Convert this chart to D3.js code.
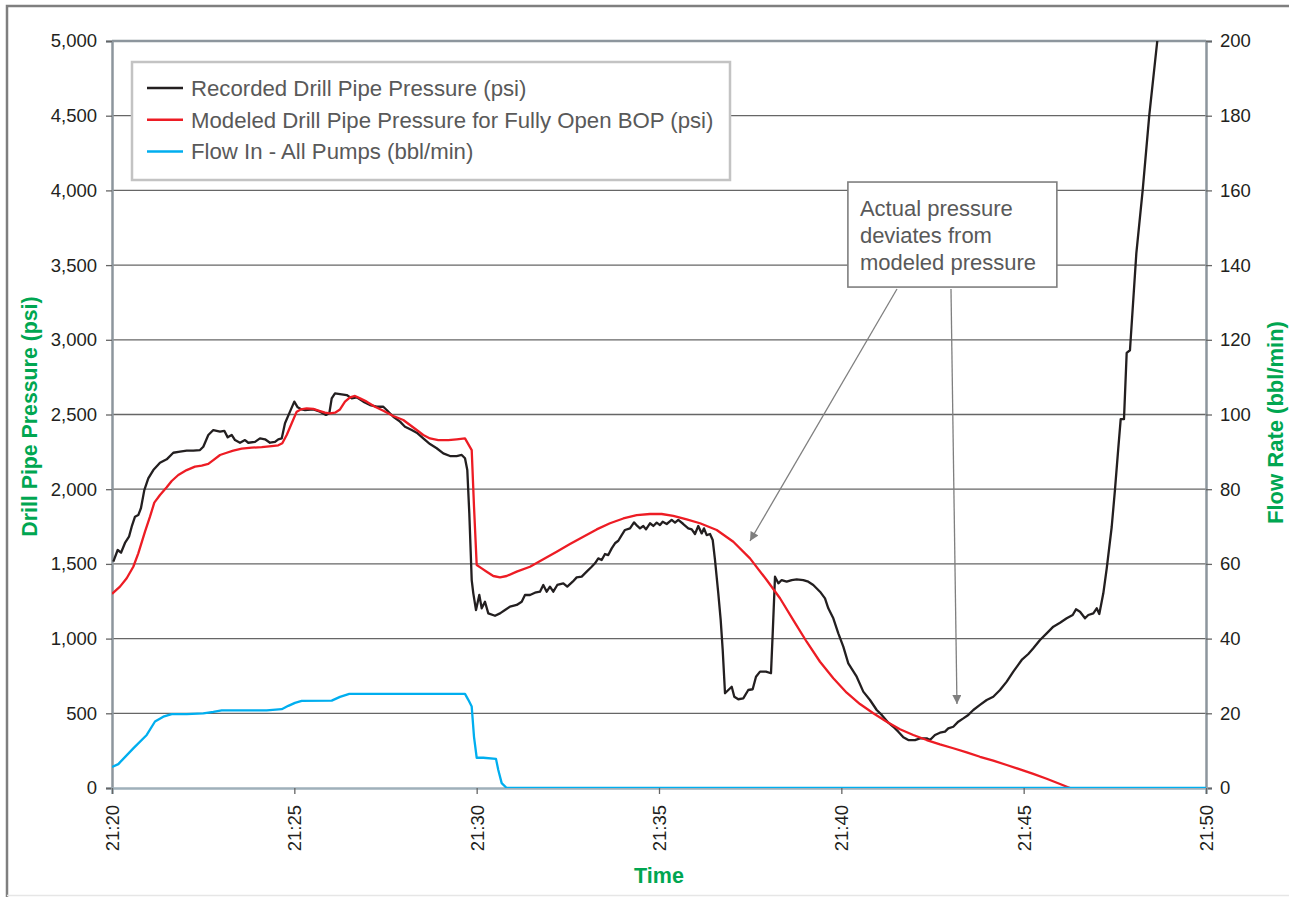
<!DOCTYPE html>
<html>
<head>
<meta charset="utf-8">
<script src="https://cdn.jsdelivr.net/npm/d3@7"></script>
<style>
  html, body { margin: 0; padding: 0; background: #fff; }
  svg { display: block; font-family: "Liberation Sans", Arial, sans-serif; }
</style>
</head>
<body>
<script>
// ---------------- DATA (time = minutes after 21:20) ----------------
const recordedMin = [0.036,0.156,0.247,0.356,0.466,0.540,0.631,0.721,0.795,0.886,0.995,1.133,1.316,1.500,1.681,1.865,2.048,2.229,2.413,2.504,2.641,2.778,2.962,3.080,3.173,3.282,3.373,3.510,3.647,3.738,3.921,4.058,4.196,4.333,4.470,4.560,4.654,4.744,4.881,4.999,5.092,5.202,5.292,5.520,5.704,5.868,5.959,6.025,6.115,6.252,6.436,6.573,6.710,6.891,7.075,7.259,7.440,7.533,7.714,7.898,8.035,8.218,8.356,8.536,8.720,8.904,9.085,9.269,9.452,9.590,9.680,9.743,9.798,9.864,9.908,9.982,10.072,10.138,10.228,10.319,10.503,10.640,10.777,10.914,11.098,11.235,11.325,11.462,11.599,11.736,11.827,11.920,12.010,12.101,12.211,12.376,12.485,12.633,12.743,12.880,13.017,13.154,13.245,13.335,13.428,13.519,13.609,13.703,13.793,13.884,13.977,14.067,14.205,14.315,14.405,14.479,14.569,14.643,14.753,14.844,14.937,15.027,15.101,15.211,15.348,15.439,15.529,15.666,15.803,15.897,15.987,16.077,16.171,16.234,16.308,16.399,16.473,16.536,16.626,16.692,16.747,16.810,16.901,16.994,17.065,17.174,17.311,17.448,17.569,17.660,17.770,17.934,18.071,18.118,18.181,18.272,18.364,18.501,18.638,18.776,18.957,19.094,19.231,19.415,19.552,19.643,19.780,19.917,20.054,20.191,20.421,20.602,20.786,20.970,21.107,21.288,21.425,21.562,21.700,21.837,22.020,22.157,22.341,22.431,22.568,22.705,22.843,22.933,23.070,23.207,23.345,23.482,23.619,23.802,23.986,24.167,24.351,24.535,24.716,24.946,25.127,25.264,25.448,25.631,25.813,25.997,26.180,26.345,26.435,26.545,26.682,26.773,26.910,27.003,27.074,27.184,27.277,27.414,27.504,27.595,27.661,27.751,27.825,27.915,28.090,28.264,28.445,28.664];
const recordedPsi = [1515,1593,1575,1640,1682,1749,1816,1827,1874,1994,2073,2128,2177,2200,2244,2251,2258,2258,2262,2284,2363,2396,2385,2391,2347,2363,2329,2311,2329,2311,2317,2340,2334,2311,2317,2334,2340,2441,2519,2586,2548,2534,2530,2534,2519,2497,2508,2608,2642,2637,2630,2608,2615,2586,2563,2552,2552,2530,2485,2452,2418,2396,2378,2340,2302,2274,2240,2222,2222,2229,2207,2128,1839,1392,1303,1191,1292,1203,1247,1169,1153,1169,1191,1214,1225,1247,1292,1292,1307,1314,1359,1314,1348,1314,1359,1370,1348,1381,1410,1415,1448,1481,1504,1537,1526,1566,1559,1604,1638,1655,1693,1727,1738,1778,1754,1738,1754,1731,1772,1754,1776,1760,1782,1767,1794,1776,1794,1767,1738,1731,1700,1754,1704,1738,1693,1700,1660,1526,1303,1124,924,634,656,678,611,594,600,656,661,745,779,779,768,1035,1414,1370,1392,1381,1392,1396,1392,1381,1359,1314,1269,1203,1136,1035,946,834,745,645,589,522,489,437,410,377,339,321,321,332,332,321,355,370,377,399,410,444,466,489,522,556,589,611,656,712,779,857,897,935,991,1035,1080,1106,1136,1158,1196,1180,1136,1158,1169,1203,1165,1303,1469,1747,1997,2275,2469,2469,2913,2930,3580,4002,4504,5000];

const modeledMin = [0,0.219,0.403,0.584,0.721,0.905,1.042,1.160,1.316,1.500,1.637,1.818,2.048,2.276,2.460,2.641,2.778,2.962,3.145,3.326,3.557,3.831,4.105,4.379,4.560,4.670,4.791,4.928,5.065,5.175,5.339,5.520,5.704,5.841,5.978,6.115,6.252,6.389,6.527,6.664,6.801,6.984,7.212,7.440,7.714,7.988,8.172,8.356,8.536,8.720,8.948,9.222,9.452,9.680,9.864,9.927,10.001,10.138,10.275,10.456,10.640,10.823,11.098,11.462,11.827,12.194,12.559,12.924,13.291,13.656,14.021,14.388,14.753,15.074,15.392,15.759,16.124,16.582,17.038,17.495,17.953,18.318,18.683,19.049,19.415,19.780,20.147,20.511,20.876,21.244,21.608,21.973,22.341,22.705,23.070,23.437,23.802,24.167,24.535,24.899,25.264,25.631,25.997,26.271];
const modeledPsi = [1300,1348,1404,1481,1571,1716,1816,1910,1961,2013,2055,2095,2128,2151,2158,2169,2195,2229,2244,2258,2271,2278,2282,2289,2294,2307,2363,2441,2519,2534,2541,2538,2523,2512,2508,2512,2534,2586,2615,2624,2608,2586,2552,2525,2490,2463,2430,2396,2363,2340,2329,2329,2334,2340,2262,1883,1493,1470,1448,1419,1410,1419,1448,1481,1531,1582,1633,1682,1731,1772,1804,1827,1834,1834,1822,1798,1772,1727,1648,1537,1392,1270,1124,979,845,734,638,562,500,444,393,355,321,292,266,239,209,183,154,125,94,62,27,0];

const flowMin = [0,0.173,0.584,0.952,1.179,1.407,1.637,2.048,2.504,2.778,3.008,4.242,4.654,4.835,5.018,5.202,6.025,6.252,6.507,9.680,9.771,9.864,9.927,10.001,10.182,10.530,10.593,10.686,10.823,30];
const flowBbl = [5.6,6.4,10.6,14.2,17.8,19.1,19.8,19.8,20.0,20.4,20.8,20.8,21.1,22.0,22.8,23.3,23.4,24.4,25.2,25.2,23.6,21.8,13.7,8.1,8.1,7.8,4.8,1.3,0,0];

const psiTicks = [0,500,1000,1500,2000,2500,3000,3500,4000,4500,5000];
const flowTicks = [0,20,40,60,80,100,120,140,160,180,200];
const timeTickMin = [0,5,10,15,20,25,30];

const seriesNames = ["Recorded Drill Pipe Pressure (psi)","Modeled Drill Pipe Pressure for Fully Open BOP (psi)","Flow In - All Pumps (bbl/min)"];
const seriesColors = ["#231f20","#ed1c24","#00aeef"];
const noteLines = ["Actual pressure","deviates from","modeled pressure"];

// ---------------- LAYOUT ----------------
const W = 1289, H = 897;
const L = 112, R = 1206, T = 41, B = 788;
const green = "#00a651";
const frameGray = "#8d969d";
const gridGray = "#666666";
const textGray = "#595959";

const base = new Date(2010, 3, 20, 21, 20, 0);
const toDate = m => new Date(base.getTime() + m * 60000);

const x = d3.scaleTime().domain([toDate(0), toDate(30)]).range([L, R]);
const yL = d3.scaleLinear().domain([0, 5000]).range([B, T]);
const yR = d3.scaleLinear().domain([0, 200]).range([B, T]);

const svg = d3.select("body").append("svg").attr("width", W).attr("height", H);
svg.append("rect").attr("width", W).attr("height", H).attr("fill", "#fff");

// outer frame
svg.append("path").attr("d", `M7,${H} V6 H${W}`).attr("fill", "none").attr("stroke", "#7f7f7f").attr("stroke-width", 2.5);
svg.append("line").attr("x1", 7).attr("x2", W).attr("y1", 895.5).attr("y2", 895.5).attr("stroke", "#e6e6e6").attr("stroke-width", 1.5);

// gridlines
svg.append("g").selectAll("line").data(psiTicks.filter(v => v > 0 && v < 5000)).join("line")
  .attr("x1", L).attr("x2", R).attr("y1", d => yL(d)).attr("y2", d => yL(d))
  .attr("stroke", gridGray).attr("stroke-width", 1.3);

// top frame line
svg.append("line").attr("x1", L).attr("x2", R).attr("y1", T).attr("y2", T).attr("stroke", frameGray).attr("stroke-width", 2.5);

// axes
const fmt = d3.format(",");
const gL = svg.append("g").attr("transform", `translate(${L},0)`)
  .call(d3.axisLeft(yL).tickValues(psiTicks).tickFormat(fmt).tickSize(6).tickPadding(9));
const gR = svg.append("g").attr("transform", `translate(${R},0)`)
  .call(d3.axisRight(yR).tickValues(flowTicks).tickSize(6).tickPadding(8));
const gB = svg.append("g").attr("transform", `translate(0,${B})`)
  .call(d3.axisBottom(x).tickValues(timeTickMin.map(toDate)).tickFormat(d3.timeFormat("%H:%M")).tickSize(6));
gB.selectAll("text").attr("transform", "rotate(-90)").attr("x", -17).attr("y", 0).attr("dy", "0.35em").style("text-anchor", "end");

[gL, gR, gB].forEach(g => {
  g.selectAll(".domain").attr("stroke", frameGray).attr("stroke-width", 2.5);
  g.selectAll(".tick line").attr("stroke", gridGray).attr("stroke-width", 1.3);
  g.selectAll("text").attr("font-size", 18.5).attr("fill", "#231f20").attr("font-family", "Liberation Sans, Arial, sans-serif");
});
gB.select(".domain").attr("stroke", "#9fb0ba");

// axis titles
svg.append("text").attr("transform", `translate(37,${(T + B) / 2 + 2}) rotate(-90)`).attr("text-anchor", "middle")
  .attr("font-size", 21.3).attr("font-weight", "bold").attr("fill", green).text("Drill Pipe Pressure (psi)");
svg.append("text").attr("transform", `translate(1283,${(T + B) / 2 + 8}) rotate(-90)`).attr("text-anchor", "middle")
  .attr("font-size", 22).attr("font-weight", "bold").attr("fill", green).text("Flow Rate (bbl/min)");
svg.append("text").attr("x", 659).attr("y", 883).attr("text-anchor", "middle")
  .attr("font-size", 21.5).attr("font-weight", "bold").attr("fill", green).text("Time");

// clip
svg.append("clipPath").attr("id", "plotclip").append("rect").attr("x", L).attr("y", T).attr("width", R - L).attr("height", B - T);
const gData = svg.append("g").attr("clip-path", "url(#plotclip)");

const recorded = recordedMin.map((m, i) => [toDate(m), recordedPsi[i]]);
const modeled = modeledMin.map((m, i) => [toDate(m), modeledPsi[i]]);
const flow = flowMin.map((m, i) => [toDate(m), flowBbl[i]]);

const lineL = d3.line().x(d => x(d[0])).y(d => yL(d[1]));
const lineR = d3.line().x(d => x(d[0])).y(d => yR(d[1]));

gData.append("path").datum(recorded).attr("d", lineL).attr("fill", "none").attr("stroke", seriesColors[0]).attr("stroke-width", 2.3).attr("stroke-linejoin", "round");
gData.append("path").datum(modeled).attr("d", lineL).attr("fill", "none").attr("stroke", seriesColors[1]).attr("stroke-width", 2.3).attr("stroke-linejoin", "round");
gData.append("path").datum(flow).attr("d", lineR).attr("fill", "none").attr("stroke", seriesColors[2]).attr("stroke-width", 2.3).attr("stroke-linejoin", "round");

// legend
const lg = svg.append("g");
lg.append("rect").attr("x", 132).attr("y", 62).attr("width", 598).attr("height", 118)
  .attr("fill", "#fff").attr("stroke", "#c3c3c3").attr("stroke-width", 2.5);
seriesNames.forEach((name, i) => {
  const yy = 88 + i * 31.8;
  lg.append("line").attr("x1", 147).attr("x2", 183).attr("y1", yy).attr("y2", yy).attr("stroke", seriesColors[i]).attr("stroke-width", 2.5);
  lg.append("text").attr("x", 191).attr("y", yy).attr("dy", "0.35em").attr("font-size", 22.2).attr("fill", textGray).text(name);
});

// annotation (positioned in data units)
const noteBox = { t0: 20.18, t1: 25.91, p0: 4056, p1: 3353 };
const arrows = [
  { from: [21.526, 3340], to: [17.495, 1653] },
  { from: [23.007, 3340], to: [23.171, 562] }
];
const defs = svg.append("defs");
defs.append("marker").attr("id", "arrowhead").attr("viewBox", "0 0 10 10").attr("refX", 10).attr("refY", 5)
  .attr("markerWidth", 11).attr("markerHeight", 9).attr("markerUnits", "userSpaceOnUse").attr("orient", "auto")
  .append("path").attr("d", "M0,0 L10,5 L0,10 z").attr("fill", "#7f7f7f");
arrows.forEach(a => {
  svg.append("line").attr("x1", x(toDate(a.from[0]))).attr("y1", yL(a.from[1]))
    .attr("x2", x(toDate(a.to[0]))).attr("y2", yL(a.to[1]))
    .attr("stroke", "#7f7f7f").attr("stroke-width", 1.3).attr("marker-end", "url(#arrowhead)");
});
const bx0 = x(toDate(noteBox.t0)), bx1 = x(toDate(noteBox.t1)), by0 = yL(noteBox.p0), by1 = yL(noteBox.p1);
svg.append("rect").attr("x", bx0).attr("y", by0).attr("width", bx1 - bx0).attr("height", by1 - by0)
  .attr("fill", "#fff").attr("stroke", "#7f7f7f").attr("stroke-width", 1.6);
noteLines.forEach((s, i) => {
  svg.append("text").attr("x", bx0 + 12).attr("y", by0 + 26 + i * 27).attr("dy", "0.35em")
    .attr("font-size", 22).attr("fill", textGray).text(s);
});
</script>
</body>
</html>
